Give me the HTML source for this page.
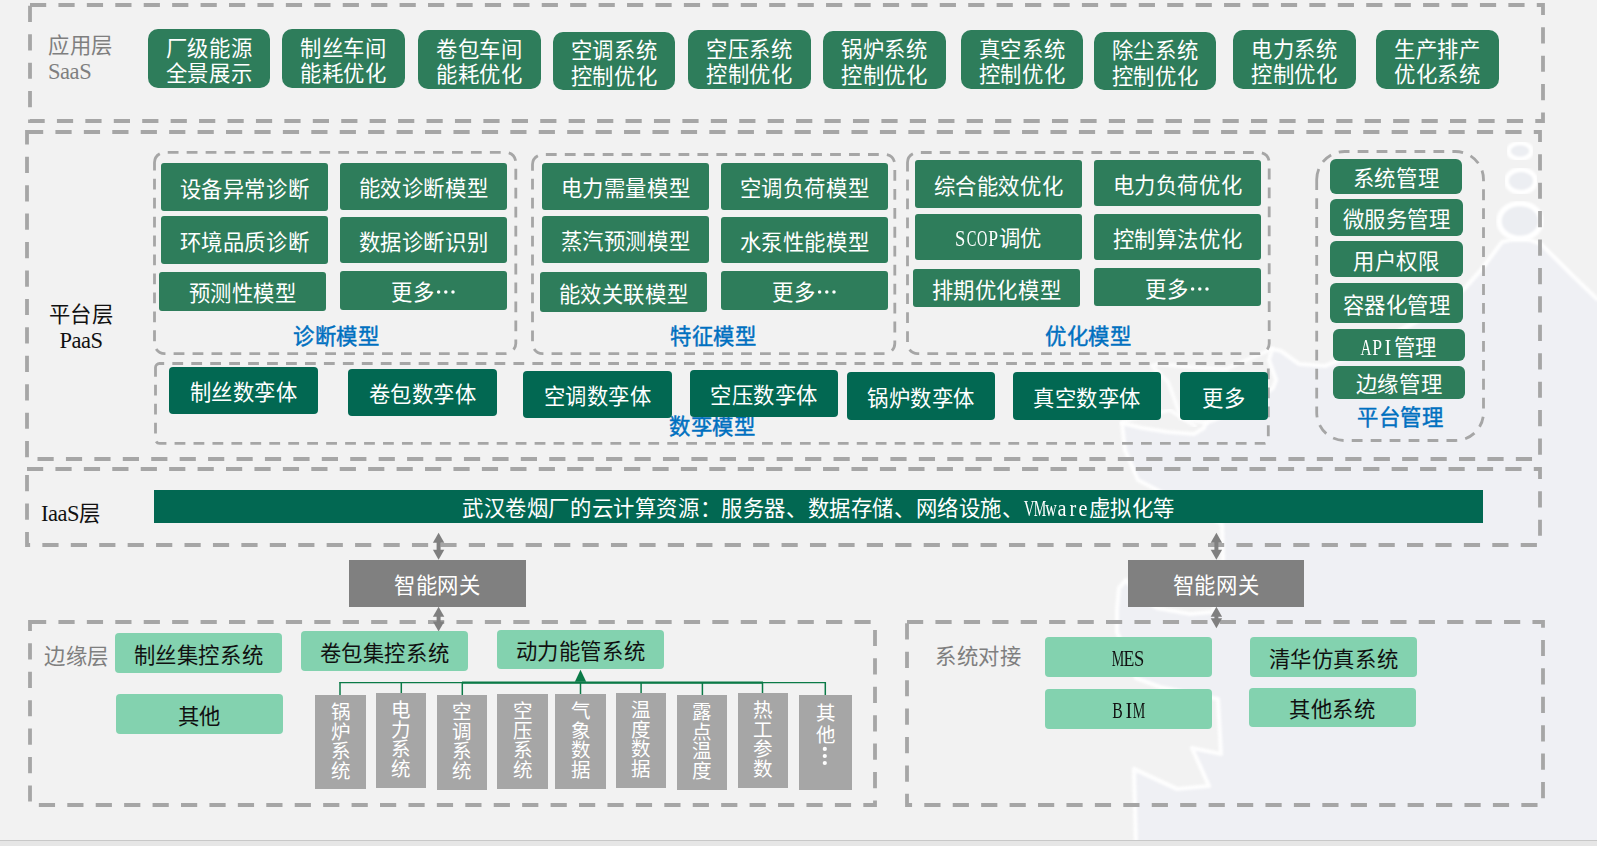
<!DOCTYPE html>
<html lang="zh-CN"><head><meta charset="utf-8"><title>architecture</title>
<style>
html,body{margin:0;padding:0;}
body{width:1597px;height:846px;background:#F2F2F2;position:relative;overflow:hidden;font-family:'Liberation Serif',serif;}
.b{font-weight:350;position:absolute;display:flex;align-items:center;justify-content:center;text-align:center;line-height:1.2;white-space:nowrap;}
.l{font-weight:350;position:absolute;white-space:nowrap;line-height:1.2;}
.lt{display:inline-block;white-space:nowrap;}
.lc{display:inline-block;font-size:22.5px;transform-origin:50% 50%;letter-spacing:0;}
.tl{font-size:22.5px;letter-spacing:-0.45px;}
svg.ell{display:inline-block;vertical-align:6px;fill:currentColor;}
svg.ov{position:absolute;left:0;top:0;}
.strip{position:absolute;left:0;top:840px;width:1597px;height:6px;background:#E6E6E6;border-top:1px solid #C8C8C8;box-sizing:border-box;}
</style></head><body>
<svg class="ov" width="1597" height="846" viewBox="0 0 1597 846"><defs><filter id="bl" x="-5%" y="-5%" width="110%" height="110%"><feGaussianBlur stdDeviation="0.8"/></filter></defs><polygon points="1597,299 1572,275 1541,244 1530,240 1510,240 1502,242 1481,270 1465,288 1442,309 1416,322 1390,335 1360,352 1325,366 1299,364 1281,351 1272,349 1269,360 1276,380 1273,388 1256,400 1230,413 1206,423 1204,428 1194,434 1168,432 1142,428 1122,423 1125,450 1138,480 1180,502 1222,524 1223,558 1222,590 1212,612 1190,614 1157,608 1140,598 1126,580 1119,588 1117,610 1117,632 1136,678 1160,687 1218,699 1221,754 1192,748 1209,786 1177,789 1134,769 1136,846 1597,846" fill="#EFF0F4"/><polyline points="1597,299 1572,275 1541,244 1530,240 1510,240 1502,242 1481,270 1465,288 1442,309 1416,322 1390,335 1360,352 1325,366 1299,364 1281,351 1272,349 1269,360 1276,380 1273,388 1256,400 1230,413 1206,423 1204,428 1194,434 1168,432 1142,428 1122,423 1125,450 1138,480 1180,502 1222,524 1223,558 1222,590 1212,612 1190,614 1157,608 1140,598 1126,580 1119,588 1117,610 1117,632 1136,678 1160,687 1218,699 1221,754 1192,748 1209,786 1177,789 1134,769 1136,846" fill="none" stroke="#FFFFFF" stroke-linejoin="round" stroke-linecap="round" filter="url(#bl)" stroke-width="4.2" opacity="0.9"/><polyline points="1272,349 1226,369 1190,367 1158,364 1152,366 1168,382 1173,395 1181,418 1206,423" fill="none" stroke="#FFFFFF" stroke-linejoin="round" stroke-linecap="round" filter="url(#bl)" stroke-width="4" opacity="0.8"/><polyline points="1122,423 1131,419 1170,410 1195,426" fill="none" stroke="#FFFFFF" stroke-linejoin="round" stroke-linecap="round" filter="url(#bl)" stroke-width="4" opacity="0.8"/><ellipse cx="1520" cy="221" rx="21" ry="17.5" fill="#ECEEF2" stroke="#FFFFFF" stroke-width="5.5" filter="url(#bl)"/><ellipse cx="1521" cy="181" rx="14.5" ry="11.5" fill="#ECEEF2" stroke="#FFFFFF" stroke-width="5" filter="url(#bl)"/><ellipse cx="1520" cy="151" rx="11.5" ry="8" fill="#ECEEF2" stroke="#FFFFFF" stroke-width="4.5" filter="url(#bl)"/><rect x="30" y="5" width="1513" height="116" rx="0" fill="none" stroke="#A6A6A6" stroke-width="3.8" stroke-dasharray="16.2 12.23"/><rect x="27" y="132" width="1513" height="327" rx="0" fill="none" stroke="#A6A6A6" stroke-width="3.8" stroke-dasharray="16.2 12.23"/><rect x="27" y="469" width="1513" height="76" rx="0" fill="none" stroke="#A6A6A6" stroke-width="3.8" stroke-dasharray="16.2 12.23"/><rect x="30" y="622" width="845" height="183" rx="0" fill="none" stroke="#A6A6A6" stroke-width="3.8" stroke-dasharray="16.2 12.23"/><rect x="907" y="622" width="636" height="183" rx="0" fill="none" stroke="#A6A6A6" stroke-width="3.8" stroke-dasharray="16.2 12.23"/><path d="M154.5,162.6 A10.2,10.2 0 0 1 164.7,152.4 H505.59999999999997 A10.2,10.2 0 0 1 515.8,162.6 V343.40000000000003 A10.2,10.2 0 0 1 505.59999999999997,353.6 H164.7 A10.2,10.2 0 0 1 154.5,343.40000000000003 Z" fill="none" stroke="#A6A6A6" stroke-width="2.8" stroke-dasharray="10.8 8.15"/><path d="M532.5,164.5 A10,10 0 0 1 542.5,154.5 H884.8 A10,10 0 0 1 894.8,164.5 V343.6 A10,10 0 0 1 884.8,353.6 H542.5 A10,10 0 0 1 532.5,343.6 Z" fill="none" stroke="#A6A6A6" stroke-width="2.8" stroke-dasharray="10.8 8.15"/><path d="M907.5,162.5 A10,10 0 0 1 917.5,152.5 H1259.2 A10,10 0 0 1 1269.2,162.5 V343.6 A10,10 0 0 1 1259.2,353.6 H917.5 A10,10 0 0 1 907.5,343.6 Z" fill="none" stroke="#A6A6A6" stroke-width="2.8" stroke-dasharray="10.8 8.15"/><path d="M1316.7,179.5 A28,28 0 0 1 1344.7,151.5 H1455.5 A28,28 0 0 1 1483.5,179.5 V412.5 A28,28 0 0 1 1455.5,440.5 H1344.7 A28,28 0 0 1 1316.7,412.5 Z" fill="none" stroke="#A6A6A6" stroke-width="2.8" stroke-dasharray="10.8 8.15"/><path d="M155.5,367.5 A4,4 0 0 1 159.5,363.5 H1264.3 A4,4 0 0 1 1268.3,367.5 V439.4 A4,4 0 0 1 1264.3,443.4 H159.5 A4,4 0 0 1 155.5,439.4 Z" fill="none" stroke="#A6A6A6" stroke-width="2.8" stroke-dasharray="10.8 8.15"/><line x1="438.6" y1="541.8" x2="438.6" y2="550.8" stroke="#7F7F7F" stroke-width="4"/><polygon points="438.6,532.8 432.90000000000003,542.8 444.3,542.8" fill="#7F7F7F"/><polygon points="438.6,559.8 432.90000000000003,549.8 444.3,549.8" fill="#7F7F7F"/><line x1="438.6" y1="615.8" x2="438.6" y2="622.4" stroke="#7F7F7F" stroke-width="4"/><polygon points="438.6,606.8 432.90000000000003,616.8 444.3,616.8" fill="#7F7F7F"/><polygon points="438.6,631.4 432.90000000000003,621.4 444.3,621.4" fill="#7F7F7F"/><line x1="1216.4" y1="541.8" x2="1216.4" y2="550.8" stroke="#7F7F7F" stroke-width="4"/><polygon points="1216.4,532.8 1210.7,542.8 1222.1000000000001,542.8" fill="#7F7F7F"/><polygon points="1216.4,559.8 1210.7,549.8 1222.1000000000001,549.8" fill="#7F7F7F"/><line x1="1216.4" y1="615.8" x2="1216.4" y2="619.3" stroke="#7F7F7F" stroke-width="4"/><polygon points="1216.4,606.8 1210.7,616.8 1222.1000000000001,616.8" fill="#7F7F7F"/><polygon points="1216.4,628.3 1210.7,618.3 1222.1000000000001,618.3" fill="#7F7F7F"/><line x1="339.5" y1="682.6" x2="826" y2="682.6" stroke="#0B7A47" stroke-width="1.4"/><line x1="462" y1="682.6" x2="763" y2="682.6" stroke="#0B7A47" stroke-width="2.3"/><line x1="340" y1="682" x2="340" y2="695" stroke="#0B7A47" stroke-width="1.5"/><line x1="401.3" y1="682" x2="401.3" y2="693" stroke="#0B7A47" stroke-width="1.5"/><line x1="462.3" y1="682" x2="462.3" y2="695" stroke="#0B7A47" stroke-width="1.5"/><line x1="580.5" y1="682" x2="580.5" y2="694" stroke="#0B7A47" stroke-width="1.5"/><line x1="641.1" y1="682" x2="641.1" y2="693" stroke="#0B7A47" stroke-width="1.5"/><line x1="702.4" y1="682" x2="702.4" y2="695" stroke="#0B7A47" stroke-width="1.5"/><line x1="762.5" y1="682" x2="762.5" y2="693" stroke="#0B7A47" stroke-width="1.5"/><line x1="825.3" y1="682" x2="825.3" y2="695" stroke="#0B7A47" stroke-width="1.5"/><polygon points="580.5,669.8 574.9,681.8 586.2,681.8" fill="#0B7A47"/></svg>
<div class="l" style="left:669px;top:415.0px;color:#0070C0;font-size:21.33px;font-weight:500;-webkit-text-stroke:0.45px #0070C0;letter-spacing:0.6px;">数孪模型</div><div class="b" style="left:148px;top:29px;width:122px;height:59px;background:#2E7D5B;color:#fff;border-radius:10px;font-size:21.33px;line-height:25.3px;letter-spacing:0.6px;"><span style="position:relative;top:3.5px">厂级能源<br>全景展示</span></div><div class="b" style="left:282px;top:29px;width:123px;height:59px;background:#2E7D5B;color:#fff;border-radius:10px;font-size:21.33px;line-height:25.3px;letter-spacing:0.6px;"><span style="position:relative;top:3.5px">制丝车间<br>能耗优化</span></div><div class="b" style="left:418px;top:30px;width:123px;height:59px;background:#2E7D5B;color:#fff;border-radius:10px;font-size:21.33px;line-height:25.3px;letter-spacing:0.6px;"><span style="position:relative;top:3.5px">卷包车间<br>能耗优化</span></div><div class="b" style="left:553px;top:32px;width:122px;height:58px;background:#2E7D5B;color:#fff;border-radius:10px;font-size:21.33px;line-height:25.3px;letter-spacing:0.6px;"><span style="position:relative;top:3.5px">空调系统<br>控制优化</span></div><div class="b" style="left:688px;top:30px;width:123px;height:59px;background:#2E7D5B;color:#fff;border-radius:10px;font-size:21.33px;line-height:25.3px;letter-spacing:0.6px;"><span style="position:relative;top:3.5px">空压系统<br>控制优化</span></div><div class="b" style="left:823px;top:31px;width:123px;height:58px;background:#2E7D5B;color:#fff;border-radius:10px;font-size:21.33px;line-height:25.3px;letter-spacing:0.6px;"><span style="position:relative;top:3.5px">锅炉系统<br>控制优化</span></div><div class="b" style="left:961px;top:30px;width:122px;height:59px;background:#2E7D5B;color:#fff;border-radius:10px;font-size:21.33px;line-height:25.3px;letter-spacing:0.6px;"><span style="position:relative;top:3.5px">真空系统<br>控制优化</span></div><div class="b" style="left:1094px;top:32px;width:122px;height:58px;background:#2E7D5B;color:#fff;border-radius:10px;font-size:21.33px;line-height:25.3px;letter-spacing:0.6px;"><span style="position:relative;top:3.5px">除尘系统<br>控制优化</span></div><div class="b" style="left:1233px;top:30px;width:123px;height:59px;background:#2E7D5B;color:#fff;border-radius:10px;font-size:21.33px;line-height:25.3px;letter-spacing:0.6px;"><span style="position:relative;top:3.5px">电力系统<br>控制优化</span></div><div class="b" style="left:1376px;top:30px;width:123px;height:59px;background:#2E7D5B;color:#fff;border-radius:10px;font-size:21.33px;line-height:25.3px;letter-spacing:0.6px;"><span style="position:relative;top:3.5px">生产排产<br>优化系统</span></div><div class="b" style="left:161px;top:163px;width:167px;height:48px;background:#2E7D5B;color:#fff;border-radius:3px;font-size:21.33px;letter-spacing:0.6px;"><span style="position:relative;top:3.5px">设备异常诊断</span></div><div class="b" style="left:161px;top:216px;width:167px;height:48px;background:#2E7D5B;color:#fff;border-radius:3px;font-size:21.33px;letter-spacing:0.6px;"><span style="position:relative;top:3.5px">环境品质诊断</span></div><div class="b" style="left:159px;top:272px;width:167px;height:39px;background:#2E7D5B;color:#fff;border-radius:3px;font-size:21.33px;letter-spacing:0.6px;"><span style="position:relative;top:3.5px">预测性模型</span></div><div class="b" style="left:340px;top:163px;width:167px;height:47px;background:#2E7D5B;color:#fff;border-radius:3px;font-size:21.33px;letter-spacing:0.6px;"><span style="position:relative;top:3.5px">能效诊断模型</span></div><div class="b" style="left:340px;top:217px;width:167px;height:46px;background:#2E7D5B;color:#fff;border-radius:3px;font-size:21.33px;letter-spacing:0.6px;"><span style="position:relative;top:3.5px">数据诊断识别</span></div><div class="b" style="left:340px;top:271px;width:167px;height:39px;background:#2E7D5B;color:#fff;border-radius:3px;font-size:21.33px;letter-spacing:0.6px;"><span style="position:relative;top:3.5px">更多<svg class="ell" width="21.6" height="4" viewBox="0 0 21.6 4"><circle cx="4.6" cy="2" r="1.75"/><circle cx="11.8" cy="2" r="1.75"/><circle cx="19" cy="2" r="1.75"/></svg></span></div><div class="b" style="left:542px;top:163px;width:167px;height:47px;background:#2E7D5B;color:#fff;border-radius:3px;font-size:21.33px;letter-spacing:0.6px;"><span style="position:relative;top:3.5px">电力需量模型</span></div><div class="b" style="left:542px;top:216px;width:167px;height:47px;background:#2E7D5B;color:#fff;border-radius:3px;font-size:21.33px;letter-spacing:0.6px;"><span style="position:relative;top:3.5px">蒸汽预测模型</span></div><div class="b" style="left:540px;top:272px;width:167px;height:40px;background:#2E7D5B;color:#fff;border-radius:3px;font-size:21.33px;letter-spacing:0.6px;"><span style="position:relative;top:3.5px">能效关联模型</span></div><div class="b" style="left:721px;top:163px;width:167px;height:47px;background:#2E7D5B;color:#fff;border-radius:3px;font-size:21.33px;letter-spacing:0.6px;"><span style="position:relative;top:3.5px">空调负荷模型</span></div><div class="b" style="left:721px;top:217px;width:167px;height:46px;background:#2E7D5B;color:#fff;border-radius:3px;font-size:21.33px;letter-spacing:0.6px;"><span style="position:relative;top:3.5px">水泵性能模型</span></div><div class="b" style="left:721px;top:271px;width:167px;height:39px;background:#2E7D5B;color:#fff;border-radius:3px;font-size:21.33px;letter-spacing:0.6px;"><span style="position:relative;top:3.5px">更多<svg class="ell" width="21.6" height="4" viewBox="0 0 21.6 4"><circle cx="4.6" cy="2" r="1.75"/><circle cx="11.8" cy="2" r="1.75"/><circle cx="19" cy="2" r="1.75"/></svg></span></div><div class="b" style="left:915px;top:160px;width:167px;height:48px;background:#2E7D5B;color:#fff;border-radius:3px;font-size:21.33px;letter-spacing:0.6px;"><span style="position:relative;top:3.5px">综合能效优化</span></div><div class="b" style="left:915px;top:214px;width:167px;height:46px;background:#2E7D5B;color:#fff;border-radius:3px;font-size:21.33px;letter-spacing:0.6px;"><span style="position:relative;top:1.5px"><span class="lt"><span class="lc" style="margin:0 -0.857px;transform:scaleX(0.823)">S</span><span class="lc" style="margin:0 -2.104px;transform:scaleX(0.640)">C</span><span class="lc" style="margin:0 -2.724px;transform:scaleX(0.634)">O</span><span class="lc" style="margin:0 -0.857px;transform:scaleX(0.783)">P</span></span>调优</span></div><div class="b" style="left:913px;top:269px;width:167px;height:38px;background:#2E7D5B;color:#fff;border-radius:3px;font-size:21.33px;letter-spacing:0.6px;"><span style="position:relative;top:3.5px">排期优化模型</span></div><div class="b" style="left:1094px;top:160px;width:167px;height:46px;background:#2E7D5B;color:#fff;border-radius:3px;font-size:21.33px;letter-spacing:0.6px;"><span style="position:relative;top:3.5px">电力负荷优化</span></div><div class="b" style="left:1094px;top:214px;width:167px;height:46px;background:#2E7D5B;color:#fff;border-radius:3px;font-size:21.33px;letter-spacing:0.6px;"><span style="position:relative;top:3.5px">控制算法优化</span></div><div class="b" style="left:1094px;top:268px;width:167px;height:38px;background:#2E7D5B;color:#fff;border-radius:3px;font-size:21.33px;letter-spacing:0.6px;"><span style="position:relative;top:3.5px">更多<svg class="ell" width="21.6" height="4" viewBox="0 0 21.6 4"><circle cx="4.6" cy="2" r="1.75"/><circle cx="11.8" cy="2" r="1.75"/><circle cx="19" cy="2" r="1.75"/></svg></span></div><div class="b" style="left:1330px;top:159px;width:132px;height:35px;background:#2E7D5B;color:#fff;border-radius:6px;font-size:21.33px;letter-spacing:0.6px;"><span style="position:relative;top:3.5px">系统管理</span></div><div class="b" style="left:1330px;top:199px;width:133px;height:37px;background:#2E7D5B;color:#fff;border-radius:6px;font-size:21.33px;letter-spacing:0.6px;"><span style="position:relative;top:3.5px">微服务管理</span></div><div class="b" style="left:1330px;top:241px;width:133px;height:36px;background:#2E7D5B;color:#fff;border-radius:6px;font-size:21.33px;letter-spacing:0.6px;"><span style="position:relative;top:3.5px">用户权限</span></div><div class="b" style="left:1330px;top:283px;width:133px;height:40px;background:#2E7D5B;color:#fff;border-radius:6px;font-size:21.33px;letter-spacing:0.6px;"><span style="position:relative;top:3.5px">容器化管理</span></div><div class="b" style="left:1333px;top:329px;width:132px;height:32px;background:#2E7D5B;color:#fff;border-radius:6px;font-size:21.33px;letter-spacing:0.6px;"><span style="position:relative;top:3.0px"><span class="lt"><span class="lc" style="margin:0 -2.724px;transform:scaleX(0.677)">A</span><span class="lc" style="margin:0 -0.857px;transform:scaleX(0.783)">P</span><span class="lc" style="margin:0 1.654px;transform:scaleX(0.900)">I</span></span>管理</span></div><div class="b" style="left:1333px;top:366px;width:132px;height:33px;background:#2E7D5B;color:#fff;border-radius:6px;font-size:21.33px;letter-spacing:0.6px;"><span style="position:relative;top:3.5px">边缘管理</span></div><div class="b" style="left:169px;top:367px;width:149px;height:47px;background:#026852;color:#fff;border-radius:4px;font-size:21.33px;letter-spacing:0.6px;"><span style="position:relative;top:3.5px">制丝数孪体</span></div><div class="b" style="left:348px;top:369px;width:149px;height:47px;background:#026852;color:#fff;border-radius:4px;font-size:21.33px;letter-spacing:0.6px;"><span style="position:relative;top:3.5px">卷包数孪体</span></div><div class="b" style="left:523px;top:371px;width:149px;height:47px;background:#026852;color:#fff;border-radius:4px;font-size:21.33px;letter-spacing:0.6px;"><span style="position:relative;top:3.5px">空调数孪体</span></div><div class="b" style="left:690px;top:370px;width:148px;height:47px;background:#026852;color:#fff;border-radius:4px;font-size:21.33px;letter-spacing:0.6px;"><span style="position:relative;top:3.5px">空压数孪体</span></div><div class="b" style="left:847px;top:372px;width:148px;height:48px;background:#026852;color:#fff;border-radius:4px;font-size:21.33px;letter-spacing:0.6px;"><span style="position:relative;top:3.5px">锅炉数孪体</span></div><div class="b" style="left:1013px;top:372px;width:148px;height:48px;background:#026852;color:#fff;border-radius:4px;font-size:21.33px;letter-spacing:0.6px;"><span style="position:relative;top:3.5px">真空数孪体</span></div><div class="b" style="left:1180px;top:372px;width:88px;height:48px;background:#026852;color:#fff;border-radius:4px;font-size:21.33px;letter-spacing:0.6px;"><span style="position:relative;top:3.5px">更多</span></div><div class="b" style="left:154px;top:490px;width:1329px;height:33px;background:#026852;color:#fff;border-radius:0px;font-size:21.33px;letter-spacing:0.6px;"><span style="position:relative;top:2px">武汉卷烟厂的云计算资源：服务器、数据存储、网络设施、<span class="lt"><span class="lc" style="margin:0 -2.724px;transform:scaleX(0.665)">V</span><span class="lc" style="margin:0 -4.603px;transform:scaleX(0.625)">M</span><span class="lc" style="margin:0 -2.724px;transform:scaleX(0.708)">w</span><span class="lc" style="margin:0 0.407px;transform:scaleX(0.900)">a</span><span class="lc" style="margin:0 1.654px;transform:scaleX(0.900)">r</span><span class="lc" style="margin:0 0.407px;transform:scaleX(0.900)">e</span></span>虚拟化等</span></div><div class="b" style="left:349px;top:560px;width:177px;height:47px;background:#808080;color:#fff;border-radius:0px;font-size:21.33px;letter-spacing:0.6px;"><span style="position:relative;top:3.5px">智能网关</span></div><div class="b" style="left:1128px;top:560px;width:176px;height:47px;background:#808080;color:#fff;border-radius:0px;font-size:21.33px;letter-spacing:0.6px;"><span style="position:relative;top:3.5px">智能网关</span></div><div class="b" style="left:115px;top:633px;width:167px;height:40px;background:#83D2AF;color:#111;border-radius:4px;font-size:21.33px;letter-spacing:0.6px;"><span style="position:relative;top:3.5px">制丝集控系统</span></div><div class="b" style="left:301px;top:631px;width:167px;height:40px;background:#83D2AF;color:#111;border-radius:4px;font-size:21.33px;letter-spacing:0.6px;"><span style="position:relative;top:3.5px">卷包集控系统</span></div><div class="b" style="left:497px;top:630px;width:167px;height:39px;background:#83D2AF;color:#111;border-radius:4px;font-size:21.33px;letter-spacing:0.6px;"><span style="position:relative;top:3.5px">动力能管系统</span></div><div class="b" style="left:116px;top:694px;width:167px;height:40px;background:#83D2AF;color:#111;border-radius:4px;font-size:21.33px;letter-spacing:0.6px;"><span style="position:relative;top:3.5px">其他</span></div><div class="b" style="left:1045px;top:637px;width:167px;height:40px;background:#83D2AF;color:#111;border-radius:4px;font-size:21.33px;letter-spacing:0.6px;"><span style="position:relative;top:1.5px"><span class="lt"><span class="lc" style="margin:0 -4.603px;transform:scaleX(0.625)">M</span><span class="lc" style="margin:0 -1.472px;transform:scaleX(0.786)">E</span><span class="lc" style="margin:0 -0.857px;transform:scaleX(0.823)">S</span></span></span></div><div class="b" style="left:1045px;top:689px;width:167px;height:40px;background:#83D2AF;color:#111;border-radius:4px;font-size:21.33px;letter-spacing:0.6px;"><span style="position:relative;top:1.5px"><span class="lt"><span class="lc" style="margin:0 -2.104px;transform:scaleX(0.700)">B</span><span class="lc" style="margin:0 1.654px;transform:scaleX(0.900)">I</span><span class="lc" style="margin:0 -4.603px;transform:scaleX(0.625)">M</span></span></span></div><div class="b" style="left:1250px;top:637px;width:167px;height:40px;background:#83D2AF;color:#111;border-radius:4px;font-size:21.33px;letter-spacing:0.6px;"><span style="position:relative;top:3.5px">清华仿真系统</span></div><div class="b" style="left:1249px;top:688px;width:167px;height:39px;background:#83D2AF;color:#111;border-radius:4px;font-size:21.33px;letter-spacing:0.6px;"><span style="position:relative;top:3.5px">其他系统</span></div><div class="b" style="left:315px;top:695px;width:51px;height:94px;background:#A6A6A6;color:#fff;border-radius:0px;font-size:19.5px;line-height:19.6px;align-items:flex-start;padding-top:4.5px;box-sizing:border-box;"><span style="position:relative;top:3.5px">锅<br>炉<br>系<br>统</span></div><div class="b" style="left:376px;top:693px;width:50px;height:95px;background:#A6A6A6;color:#fff;border-radius:0px;font-size:19.5px;line-height:19.6px;align-items:flex-start;padding-top:4.5px;box-sizing:border-box;"><span style="position:relative;top:3.5px">电<br>力<br>系<br>统</span></div><div class="b" style="left:437px;top:695px;width:50px;height:95px;background:#A6A6A6;color:#fff;border-radius:0px;font-size:19.5px;line-height:19.6px;align-items:flex-start;padding-top:4.5px;box-sizing:border-box;"><span style="position:relative;top:3.5px">空<br>调<br>系<br>统</span></div><div class="b" style="left:497px;top:694px;width:51px;height:95px;background:#A6A6A6;color:#fff;border-radius:0px;font-size:19.5px;line-height:19.6px;align-items:flex-start;padding-top:4.5px;box-sizing:border-box;"><span style="position:relative;top:3.5px">空<br>压<br>系<br>统</span></div><div class="b" style="left:555px;top:694px;width:51px;height:95px;background:#A6A6A6;color:#fff;border-radius:0px;font-size:19.5px;line-height:19.6px;align-items:flex-start;padding-top:4.5px;box-sizing:border-box;"><span style="position:relative;top:3.5px">气<br>象<br>数<br>据</span></div><div class="b" style="left:616px;top:693px;width:50px;height:95px;background:#A6A6A6;color:#fff;border-radius:0px;font-size:19.5px;line-height:19.6px;align-items:flex-start;padding-top:4.5px;box-sizing:border-box;"><span style="position:relative;top:3.5px">温<br>度<br>数<br>据</span></div><div class="b" style="left:677px;top:695px;width:50px;height:95px;background:#A6A6A6;color:#fff;border-radius:0px;font-size:19.5px;line-height:19.6px;align-items:flex-start;padding-top:4.5px;box-sizing:border-box;"><span style="position:relative;top:3.5px">露<br>点<br>温<br>度</span></div><div class="b" style="left:738px;top:693px;width:50px;height:95px;background:#A6A6A6;color:#fff;border-radius:0px;font-size:19.5px;line-height:19.6px;align-items:flex-start;padding-top:4.5px;box-sizing:border-box;"><span style="position:relative;top:3.5px">热<br>工<br>参<br>数</span></div><div class="b" style="left:799px;top:695px;width:53px;height:95px;background:#A6A6A6;color:#fff;border-radius:0px;font-size:19.5px;line-height:21.7px;align-items:flex-start;padding-top:4.5px;box-sizing:border-box;"><span style="position:relative;top:3.5px">其<br>他</span></div><div class="l" style="left:48px;top:33px;color:#7F7F7F;font-size:21.33px;line-height:26px;letter-spacing:0.6px;">应用层<br><span class=tl>SaaS</span></div><div class="l" style="left:30px;top:301.5px;color:#111;font-size:21.33px;width:102px;text-align:center;line-height:26px;letter-spacing:0.6px;">平台层<br><span class=tl>PaaS</span></div><div class="l" style="left:41px;top:500.0px;color:#111;font-size:21.33px;letter-spacing:0.6px;"><span class=tl>IaaS</span>层</div><div class="l" style="left:44px;top:644.5px;color:#7F7F7F;font-size:21.33px;letter-spacing:0.6px;">边缘层</div><div class="l" style="left:935px;top:644.5px;color:#7F7F7F;font-size:21.33px;letter-spacing:0.6px;">系统对接</div><div class="l" style="left:293px;top:324.5px;color:#0070C0;font-size:21.33px;font-weight:500;-webkit-text-stroke:0.45px #0070C0;letter-spacing:0.6px;">诊断模型</div><div class="l" style="left:670px;top:324.5px;color:#0070C0;font-size:21.33px;font-weight:500;-webkit-text-stroke:0.45px #0070C0;letter-spacing:0.6px;">特征模型</div><div class="l" style="left:1045px;top:324.5px;color:#0070C0;font-size:21.33px;font-weight:500;-webkit-text-stroke:0.45px #0070C0;letter-spacing:0.6px;">优化模型</div><div class="l" style="left:1357px;top:405.5px;color:#0070C0;font-size:21.33px;font-weight:500;-webkit-text-stroke:0.45px #0070C0;letter-spacing:0.6px;">平台管理</div>
<svg class="ov" width="1597" height="846" viewBox="0 0 1597 846" style="pointer-events:none"><circle cx="824.8" cy="748.9" r="2.1" fill="#fff"/><circle cx="824.8" cy="756" r="2.1" fill="#fff"/><circle cx="824.8" cy="763" r="2.1" fill="#fff"/></svg>
<div class="strip"></div>
</body></html>
